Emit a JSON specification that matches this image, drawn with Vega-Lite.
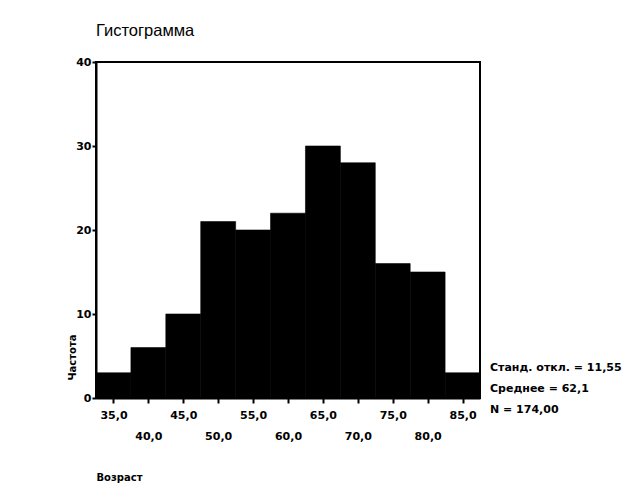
{
  "$schema": "https://vega.github.io/schema/vega-lite/v6.json",
  "autosize": "none",
  "width": 384,
  "height": 336,
  "padding": {"left": 96, "top": 62, "right": 153, "bottom": 101},
  "background": "white",
  "title": {
    "text": "Гистограмма",
    "anchor": "start",
    "frame": "group",
    "font": "Liberation Sans",
    "fontSize": 16.5,
    "fontWeight": "normal",
    "color": "black",
    "offset": 17
  },
  "config": {
    "view": {"stroke": "black", "strokeWidth": 2},
    "axis": {
      "domainColor": "black",
      "domainWidth": 2,
      "tickColor": "black",
      "tickWidth": 2,
      "labelColor": "black",
      "labelFont": "DejaVu Sans",
      "labelFontWeight": "bold",
      "labelFontSize": 11,
      "titleColor": "black",
      "titleFont": "DejaVu Sans",
      "titleFontWeight": "bold",
      "titleFontSize": 10,
      "grid": false
    }
  },
  "resolve": {"axis": {"x": "independent"}},
  "layer": [
    {
      "data": {
        "values": [
          {"bin_start": 32.5, "bin_end": 37.5, "count": 3},
          {"bin_start": 37.5, "bin_end": 42.5, "count": 6},
          {"bin_start": 42.5, "bin_end": 47.5, "count": 10},
          {"bin_start": 47.5, "bin_end": 52.5, "count": 21},
          {"bin_start": 52.5, "bin_end": 57.5, "count": 20},
          {"bin_start": 57.5, "bin_end": 62.5, "count": 22},
          {"bin_start": 62.5, "bin_end": 67.5, "count": 30},
          {"bin_start": 67.5, "bin_end": 72.5, "count": 28},
          {"bin_start": 72.5, "bin_end": 77.5, "count": 16},
          {"bin_start": 77.5, "bin_end": 82.5, "count": 15},
          {"bin_start": 82.5, "bin_end": 87.5, "count": 3}
        ]
      },
      "mark": {"type": "rect", "color": "black", "stroke": "black", "strokeWidth": 0.6},
      "encoding": {
        "x": {
          "field": "bin_start",
          "type": "quantitative",
          "scale": {"domain": [32.5, 87.5], "nice": false, "zero": false},
          "axis": {
            "orient": "bottom",
            "values": [35, 40, 45, 50, 55, 60, 65, 70, 75, 80, 85],
            "labelExpr": "datum.value % 10 == 0 ? '' : replace(format(datum.value, '.1f'), '.', ',')",
            "labelBaseline": "top",
            "tickSize": 5,
            "labelPadding": 6,
            "labelFlush": false,
            "labelOverlap": false,
            "title": "Возраст",
            "titleAnchor": "start",
            "titleAlign": "left",
            "titleX": 0,
            "titleY": 82,
            "titleBaseline": "alphabetic"
          }
        },
        "x2": {"field": "bin_end"},
        "y": {
          "field": "count",
          "type": "quantitative",
          "scale": {"domain": [0, 40], "nice": false},
          "axis": {
            "values": [0, 10, 20, 30, 40],
            "tickSize": 4,
            "labelPadding": 1,
            "labelFlush": false,
            "title": "Частота",
            "titleAnchor": "start",
            "titleAlign": "left",
            "titleAngle": -90,
            "titleX": -21,
            "titleY": 318,
            "titleBaseline": "alphabetic"
          }
        },
        "y2": {"datum": 0}
      }
    },
    {
      "data": {"values": [{"stats": "Станд. откл. = 11,55|Среднее = 62,1|N = 174,00"}]},
      "mark": {
        "type": "text",
        "align": "left",
        "baseline": "middle",
        "lineBreak": "|",
        "lineHeight": 21,
        "dx": 10,
        "font": "DejaVu Sans",
        "fontWeight": "bold",
        "fontSize": 11,
        "color": "black"
      },
      "encoding": {
        "x": {
          "datum": 87.5,
          "type": "quantitative",
          "axis": {
            "orient": "bottom",
            "values": [40, 50, 60, 70, 80],
            "labelExpr": "replace(format(datum.value, '.1f'), '.', ',')",
            "labelBaseline": "top",
            "domain": false,
            "ticks": false,
            "tickSize": 5,
            "labelPadding": 32,
            "labelFlush": false,
            "labelOverlap": false,
            "title": null
          }
        },
        "y": {"datum": 3.57, "type": "quantitative"},
        "text": {"field": "stats"}
      }
    }
  ]
}
